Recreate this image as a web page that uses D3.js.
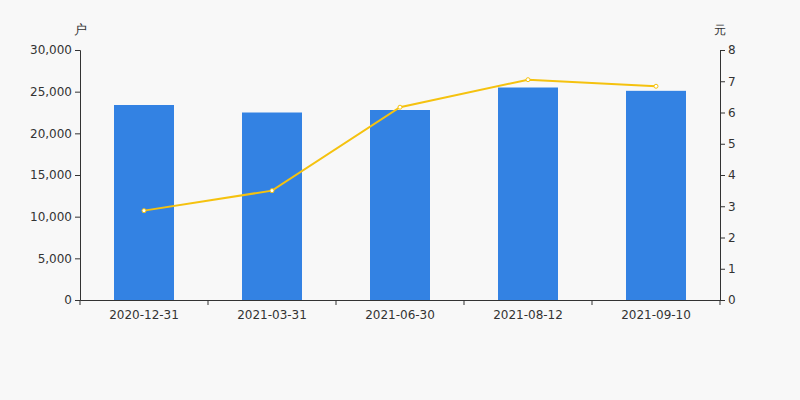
<!DOCTYPE html>
<html><head><meta charset="utf-8">
<script src="https://cdn.jsdelivr.net/npm/d3@7"></script>
<style>html,body{margin:0;padding:0;background:#f8f8f8;}svg{display:block;}</style>
</head><body><svg id="c" width="800" height="400"></svg>
<script>
const categories = ["2020-12-31","2021-03-31","2021-06-30","2021-08-12","2021-09-10"];
const holders = [23400, 22500, 22800, 25500, 25100];
const prices = [2.86, 3.50, 6.17, 7.05, 6.84];
const leftTicks = [0,5000,10000,15000,20000,25000,30000];
const rightTicks = [0,1,2,3,4,5,6,7,8];
const leftUnit = "户", rightUnit = "元";

const svg = d3.select("#c");
const m = {l:80, r:80, t:50, b:100};
const W = 800, H = 400;
const x = d3.scaleBand().domain(categories).range([m.l, W-m.r]).paddingInner(0).paddingOuter(0);
const yL = d3.scaleLinear().domain([0,30000]).range([H-m.b, m.t]);
const yR = d3.scaleLinear().domain([0,8]).range([H-m.b, m.t]);
const font = "DejaVu Sans, sans-serif";
const col = "#333";

const barW = 60;
svg.append("g").selectAll("rect").data(categories).join("rect")
  .attr("x", d => x(d) + x.bandwidth()/2 - barW/2)
  .attr("width", barW)
  .attr("y", (d,i) => yL(holders[i]))
  .attr("height", (d,i) => yL(0) - yL(holders[i]))
  .attr("fill", "#3382e3");

const line = d3.line().x((d,i) => x(categories[i]) + x.bandwidth()/2).y(d => yR(d));
svg.append("path").datum(prices).attr("d", line).attr("fill","none")
  .attr("stroke","#f5c20f").attr("stroke-width",2);
svg.append("g").selectAll("circle").data(prices).join("circle")
  .attr("cx",(d,i)=>x(categories[i]) + x.bandwidth()/2).attr("cy", d=>yR(d)).attr("r",2)
  .attr("fill","#fff").attr("stroke","#f5c20f").attr("stroke-width",1);

function style(g){
  g.selectAll("path.domain").attr("stroke",col);
  g.selectAll(".tick line").attr("stroke",col);
  g.selectAll("text").attr("fill",col).style("font-family",font).style("font-size","12px");
}
const fmt = d3.format(",");
svg.append("g").attr("transform",`translate(${m.l},0)`)
  .call(d3.axisLeft(yL).tickValues(leftTicks).tickFormat(fmt).tickSizeOuter(0).tickSize(5).tickPadding(3))
  .call(style);
svg.append("g").attr("transform",`translate(${W-m.r},0)`)
  .call(d3.axisRight(yR).tickValues(rightTicks).tickSizeOuter(0).tickSize(5).tickPadding(3))
  .call(style);
const xa = svg.append("g").attr("transform",`translate(0,${H-m.b})`)
  .call(d3.axisBottom(x).tickSize(0).tickPadding(10))
  .call(style);
xa.selectAll(".bt").data(d3.range(categories.length+1)).join("line")
  .attr("x1", i => m.l + i*x.bandwidth()).attr("x2", i => m.l + i*x.bandwidth())
  .attr("y1",0).attr("y2",5).attr("stroke",col);

svg.append("text").attr("x",80).attr("y",34).attr("text-anchor","middle")
  .style("font-family",font).style("font-size","13px").attr("fill",col).text(leftUnit);
svg.append("text").attr("x",720).attr("y",34).attr("text-anchor","middle")
  .style("font-family",font).style("font-size","12px").attr("fill",col).text(rightUnit);
</script></body></html>
